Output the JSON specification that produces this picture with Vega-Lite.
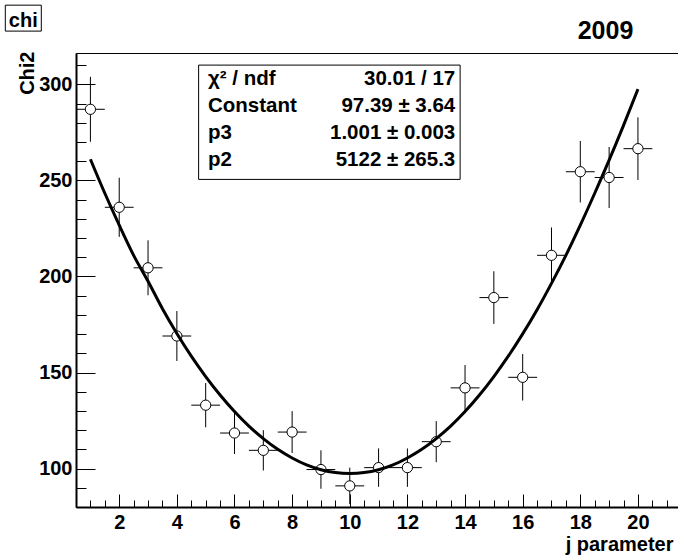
{
  "$schema": "https://vega.github.io/schema/vega-lite/v6.json",
  "width": 602,
  "height": 454,
  "autosize": {"type": "none"},
  "padding": {"left": 76, "top": 53, "right": 0, "bottom": 53},
  "background": "white",
  "config": {
    "font": "Liberation Sans",
    "view": {"stroke": "black", "strokeWidth": 1}
  },
  "resolve": {"axis": {"x": "independent", "y": "independent"}},
  "datasets": {
    "points": [
      {"j": 1, "chi2": 287, "err": 16.9, "xerr": 0.5},
      {"j": 2, "chi2": 236, "err": 15.4, "xerr": 0.5},
      {"j": 3, "chi2": 204.5, "err": 14.3, "xerr": 0.5},
      {"j": 4, "chi2": 169, "err": 13.0, "xerr": 0.5},
      {"j": 5, "chi2": 133, "err": 11.5, "xerr": 0.5},
      {"j": 6, "chi2": 118.5, "err": 10.9, "xerr": 0.5},
      {"j": 7, "chi2": 109.5, "err": 10.5, "xerr": 0.5},
      {"j": 8, "chi2": 119, "err": 10.9, "xerr": 0.5},
      {"j": 9, "chi2": 99.5, "err": 10.0, "xerr": 0.5},
      {"j": 10, "chi2": 91, "err": 9.5, "xerr": 0.5},
      {"j": 11, "chi2": 100.5, "err": 10.0, "xerr": 0.5},
      {"j": 12, "chi2": 100.5, "err": 10.0, "xerr": 0.5},
      {"j": 13, "chi2": 114, "err": 10.7, "xerr": 0.5},
      {"j": 14, "chi2": 142, "err": 11.9, "xerr": 0.5},
      {"j": 15, "chi2": 189, "err": 13.7, "xerr": 0.5},
      {"j": 16, "chi2": 147.5, "err": 12.1, "xerr": 0.5},
      {"j": 17, "chi2": 211, "err": 14.5, "xerr": 0.5},
      {"j": 18, "chi2": 254.5, "err": 16.0, "xerr": 0.5},
      {"j": 19, "chi2": 251.5, "err": 15.9, "xerr": 0.5},
      {"j": 20, "chi2": 266.5, "err": 16.3, "xerr": 0.5}
    ],
    "fit": [
      {"j": 1, "f": 261.0}, {"j": 1.5, "f": 243.3}, {"j": 2, "f": 226.7}, {"j": 2.5, "f": 211.0},
      {"j": 3, "f": 197.5}, {"j": 3.5, "f": 183.2}, {"j": 4, "f": 170.3}, {"j": 4.5, "f": 158.5},
      {"j": 5, "f": 147.9}, {"j": 5.5, "f": 138.3}, {"j": 6, "f": 129.7}, {"j": 6.5, "f": 122.1},
      {"j": 7, "f": 115.6}, {"j": 7.5, "f": 110.0}, {"j": 8, "f": 105.5}, {"j": 8.5, "f": 101.9},
      {"j": 9, "f": 99.4}, {"j": 9.5, "f": 97.9}, {"j": 10, "f": 97.4}, {"j": 10.5, "f": 97.9},
      {"j": 11, "f": 99.4}, {"j": 11.5, "f": 101.9}, {"j": 12, "f": 105.5}, {"j": 12.5, "f": 110.0},
      {"j": 13, "f": 115.6}, {"j": 13.5, "f": 122.1}, {"j": 14, "f": 129.7}, {"j": 14.5, "f": 138.3},
      {"j": 15, "f": 147.9}, {"j": 15.5, "f": 158.5}, {"j": 16, "f": 170.1}, {"j": 16.5, "f": 182.7},
      {"j": 17, "f": 196.4}, {"j": 17.5, "f": 211.0}, {"j": 18, "f": 226.7}, {"j": 18.5, "f": 243.3},
      {"j": 19, "f": 260.5}, {"j": 19.5, "f": 278.6}, {"j": 20, "f": 297.5}
    ]
  },
  "layer": [
    {
      "data": {"name": "points"},
      "mark": {"type": "errorbar", "color": "black", "thickness": 1},
      "encoding": {
        "x": {"field": "j", "type": "quantitative", "axis": null},
        "y": {"field": "chi2", "type": "quantitative", "axis": null},
        "yError": {"field": "err"}
      }
    },
    {
      "data": {"name": "points"},
      "mark": {"type": "errorbar", "color": "black", "thickness": 1},
      "encoding": {
        "x": {"field": "j", "type": "quantitative", "axis": null},
        "y": {"field": "chi2", "type": "quantitative", "axis": null},
        "xError": {"field": "xerr"}
      }
    },
    {
      "data": {"name": "points"},
      "mark": {"type": "point", "shape": "circle", "filled": false, "fill": "white", "fillOpacity": 1, "stroke": "black", "strokeWidth": 1, "opacity": 1, "size": 105},
      "encoding": {
        "x": {
          "field": "j", "type": "quantitative",
          "scale": {"domain": [0.5, 21.39], "nice": false, "zero": false},
          "axis": {
            "orient": "bottom",
            "title": "j  parameter",
            "values": [2,4,6,8,10,12,14,16,18,20],
            "tickSize": -13,
            "tickColor": "black",
            "tickWidth": 1,
            "labelFont": "Liberation Sans",
            "labelFontWeight": "bold",
            "labelFontSize": 20,
            "labelColor": "black",
            "labelBaseline": "top",
            "labelPadding": 18,
            "labelOverlap": false,
            "labelFlush": false,
            "labelBound": false,
            "domainColor": "black",
            "domainWidth": 2,
            "grid": false,
            "titleFont": "Liberation Sans",
            "titleFontWeight": "bold",
            "titleFontSize": 20,
            "titleColor": "black",
            "titleAlign": "right",
            "titleBaseline": "alphabetic",
            "titleX": 597,
            "titleY": 43
          }
        },
        "y": {
          "field": "chi2", "type": "quantitative",
          "scale": {"domain": [80, 316.3], "nice": false, "zero": false},
          "axis": {
            "orient": "left",
            "title": "Chi2",
            "values": [100,150,200,250,300],
            "tickSize": -19,
            "tickColor": "black",
            "tickWidth": 1,
            "labelFont": "Liberation Sans",
            "labelFontWeight": "bold",
            "labelFontSize": 20,
            "labelColor": "black",
            "labelPadding": 23,
            "labelOverlap": false,
            "labelFlush": false,
            "labelBound": false,
            "domainColor": "black",
            "domainWidth": 2,
            "grid": false,
            "titleFont": "Liberation Sans",
            "titleFontWeight": "bold",
            "titleFontSize": 20,
            "titleColor": "black",
            "titleAngle": -90,
            "titleAlign": "right",
            "titleBaseline": "alphabetic",
            "titleX": -43,
            "titleY": -2
          }
        }
      }
    },
    {
      "data": {"name": "fit"},
      "mark": {"type": "line", "color": "black", "strokeWidth": 3, "interpolate": "monotone"},
      "encoding": {
        "x": {
          "field": "j", "type": "quantitative",
          "axis": {
            "orient": "bottom",
            "title": null,
            "labels": false,
            "domain": false,
            "grid": false,
            "values": [0.5,1,1.5,2.5,3,3.5,4.5,5,5.5,6.5,7,7.5,8.5,9,9.5,10.5,11,11.5,12.5,13,13.5,14.5,15,15.5,16.5,17,17.5,18.5,19,19.5,20.5,21],
            "tickSize": -7,
            "tickColor": "black",
            "tickWidth": 1
          }
        },
        "y": {
          "field": "f", "type": "quantitative",
          "axis": {
            "orient": "left",
            "title": null,
            "labels": false,
            "domain": false,
            "grid": false,
            "values": [90,110,120,130,140,160,170,180,190,210,220,230,240,260,270,280,290,310],
            "tickSize": -10,
            "tickColor": "black",
            "tickWidth": 1
          }
        }
      }
    },
    {
      "data": {"values": [{}]},
      "mark": {"type": "rect", "fill": "white", "stroke": "black", "strokeWidth": 1},
      "encoding": {
        "x": {"datum": 4.755, "type": "quantitative", "axis": null},
        "x2": {"datum": 13.83},
        "y": {"datum": 310, "type": "quantitative", "axis": null},
        "y2": {"datum": 250.5}
      }
    },
    {
      "data": {"values": [{}]},
      "mark": {"type": "text", "align": "left", "baseline": "alphabetic", "font": "Liberation Sans", "fontWeight": "bold", "fontSize": 20.5, "lineHeight": 27, "color": "black",
        "text": ["χ² / ndf", "Constant", "p3", "p2"]},
      "encoding": {
        "x": {"datum": 5.08, "type": "quantitative", "axis": null},
        "y": {"datum": 299.85, "type": "quantitative", "axis": null}
      }
    },
    {
      "data": {"values": [{}]},
      "mark": {"type": "text", "align": "right", "baseline": "alphabetic", "font": "Liberation Sans", "fontWeight": "bold", "fontSize": 20.5, "lineHeight": 27, "color": "black",
        "text": ["30.01 / 17", "97.39 ± 3.64", "1.001 ± 0.003", "5122 ± 265.3"]},
      "encoding": {
        "x": {"datum": 13.66, "type": "quantitative", "axis": null},
        "y": {"datum": 299.85, "type": "quantitative", "axis": null}
      }
    },
    {
      "data": {"values": [{}]},
      "mark": {"type": "text", "align": "right", "baseline": "alphabetic", "font": "Liberation Sans", "fontWeight": "bold", "fontSize": 25, "color": "black", "text": "2009"},
      "encoding": {
        "x": {"datum": 19.84, "type": "quantitative", "axis": null},
        "y": {"datum": 323.7, "type": "quantitative", "axis": null}
      }
    },
    {
      "data": {"values": [{}]},
      "mark": {"type": "rect", "fill": "white", "stroke": "black", "strokeWidth": 1},
      "encoding": {
        "x": {"datum": -1.953, "type": "quantitative", "axis": null},
        "x2": {"datum": -0.704},
        "y": {"datum": 341.2, "type": "quantitative", "axis": null},
        "y2": {"datum": 327.7}
      }
    },
    {
      "data": {"values": [{}]},
      "mark": {"type": "text", "align": "center", "baseline": "alphabetic", "font": "Liberation Sans", "fontWeight": "bold", "fontSize": 20, "color": "black", "text": "chi"},
      "encoding": {
        "x": {"datum": -1.328, "type": "quantitative", "axis": null},
        "y": {"datum": 329.9, "type": "quantitative", "axis": null}
      }
    }
  ]
}
